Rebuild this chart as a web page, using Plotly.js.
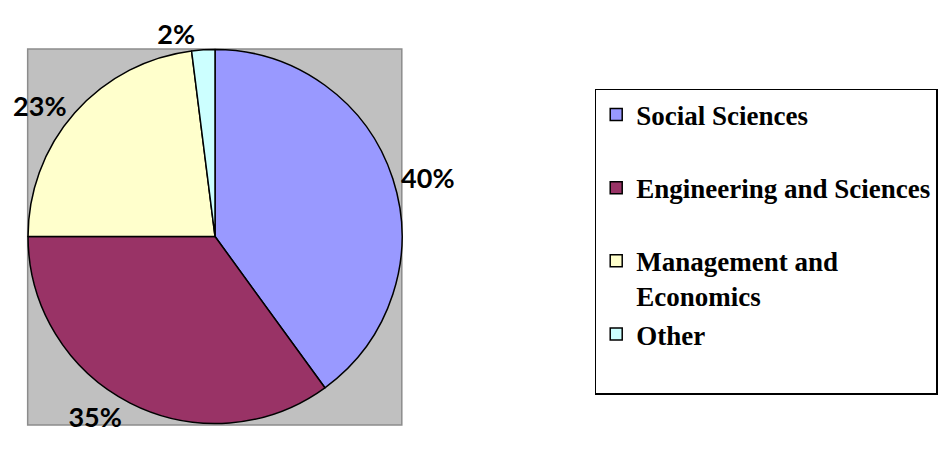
<!DOCTYPE html>
<html>
<head>
<meta charset="utf-8">
<script src="https://cdn.plot.ly/plotly-3.0.1.min.js"></script>
<style>html,body{margin:0;padding:0;background:#fff;}#chart{width:941px;height:456px;}</style>
</head>
<body>
<div id="chart"></div>
<script>
const categories = ["Social Sciences", "Engineering and Sciences", "Management and Economics", "Other"];
const shares = [40, 35, 23, 2];
const sliceColors = ["#9999FF", "#993366", "#FFFFCC", "#CCFFFF"];

// legend text: wrap the long label as in the original, pad single-line items
const legendText = categories.map(function (c) {
  if (c === "Management and Economics") return "Management and<br>Economics";
  return c + "<br>&nbsp;";
});

const trace = {
  type: "pie",
  labels: legendText,
  values: shares,
  sort: false,
  direction: "clockwise",
  rotation: 0,
  marker: { colors: sliceColors, line: { color: "#000000", width: 1.5 } },
  textposition: "outside",
  texttemplate: "%{percent:.0%}",
  outsidetextfont: { family: "Lato, 'Open Sans', sans-serif", size: 27, color: "#000000", weight: "bold" },
  domain: { x: [0.0298, 0.4272], y: [0.0702, 0.8925] },
  hoverinfo: "label+percent"
};

const layout = {
  width: 941,
  height: 456,
  margin: { l: 0, r: 0, t: 0, b: 0 },
  paper_bgcolor: "#FFFFFF",
  showlegend: true,
  legend: {
    x: 0.632, y: 0.805, xanchor: "left", yanchor: "top",
    bordercolor: "#000000", borderwidth: 1.5, bgcolor: "#FFFFFF",
    valign: "top",
    font: { family: "'Liberation Serif', 'Times New Roman', serif", size: 27, color: "#000000", weight: "bold" }
  },
  shapes: [{
    type: "rect", xref: "paper", yref: "paper", layer: "below",
    x0: 0.0294, x1: 0.4270, y0: 0.068, y1: 0.8925,
    fillcolor: "#C0C0C0", line: { color: "#8C8C8C", width: 1.5 }
  }]
};

Plotly.newPlot("chart", [trace], layout, { displayModeBar: false, staticPlot: true });
</script>
</body>
</html>
